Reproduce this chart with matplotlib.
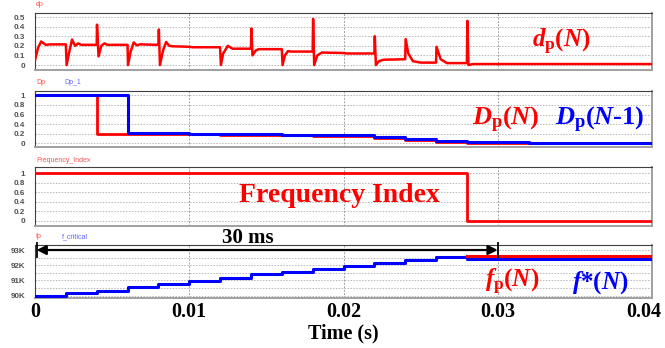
import matplotlib
matplotlib.use("Agg")
import matplotlib.pyplot as plt
import numpy as np
from matplotlib.transforms import ScaledTranslation

plt.rcParams['mathtext.fontset'] = 'custom'
plt.rcParams['mathtext.rm'] = 'Liberation Serif:bold'
plt.rcParams['mathtext.it'] = 'Liberation Serif:italic:bold'
plt.rcParams['mathtext.bf'] = 'Liberation Serif:bold'

# ---------------- data ----------------
# dp(N) waveform breakpoints (time s, duty)
dp_t = [0.0000, 0.0002, 0.0004, 0.0007, 0.0010, 0.0020, 0.00205, 0.0022, 0.0024, 0.0026,
        0.0028, 0.0030, 0.0040, 0.00402, 0.00412, 0.0043, 0.0045, 0.0047, 0.0060, 0.00603,
        0.0062, 0.0064, 0.0066, 0.0068, 0.0080, 0.00803, 0.0081, 0.0083, 0.0085, 0.0087,
        0.0089, 0.0100, 0.0102, 0.0120, 0.01205, 0.0122, 0.0125, 0.0128, 0.0140, 0.01403,
        0.0141, 0.0143, 0.0145, 0.0160, 0.01605, 0.0162, 0.0164, 0.0166, 0.0180, 0.01803,
        0.0181, 0.0183, 0.0186, 0.0200, 0.0202, 0.0220, 0.02203, 0.0221, 0.0223, 0.0226,
        0.0240, 0.02403, 0.0242, 0.0245, 0.0250, 0.0260, 0.02603, 0.0263, 0.0267, 0.0280,
        0.02803, 0.0281, 0.0284, 0.0400]
dp_v = [0.05, 0.18, 0.245, 0.21, 0.215, 0.215, 0.00, 0.12, 0.265, 0.20,
        0.225, 0.21, 0.21, 0.42, 0.09, 0.20, 0.225, 0.21, 0.21, 0.00,
        0.14, 0.235, 0.205, 0.215, 0.21, 0.37, 0.00, 0.15, 0.24, 0.20,
        0.195, 0.19, 0.185, 0.185, 0.00, 0.12, 0.20, 0.17, 0.17, 0.38,
        0.10, 0.15, 0.165, 0.165, 0.00, 0.10, 0.145, 0.14, 0.14, 0.48,
        0.00, 0.10, 0.13, 0.125, 0.12, 0.12, 0.30, 0.00, 0.04, 0.055,
        0.06, 0.27, 0.12, 0.04, 0.025, 0.025, 0.19, 0.06, 0.02, 0.02,
        0.46, 0.00, 0.01, 0.01]

# Dp(N) and Dp(N-1) step levels
step_t = [0.000, 0.002, 0.004, 0.006, 0.008, 0.010, 0.012, 0.014, 0.016, 0.018,
          0.020, 0.022, 0.024, 0.026, 0.028, 0.030, 0.032, 0.034, 0.036, 0.038, 0.040]
Dp_N = [1.0, 1.0, 0.20, 0.20, 0.19, 0.19, 0.18, 0.18, 0.165, 0.155,
        0.155, 0.11, 0.06, 0.025, 0.015, 0.015, 0.015, 0.015, 0.015, 0.015, 0.015]
Dp_N1 = [1.0, 1.0, 1.0, 0.205, 0.205, 0.195, 0.19, 0.185, 0.18, 0.17,
         0.165, 0.13, 0.08, 0.045, 0.025, 0.025, 0.015, 0.015, 0.015, 0.015, 0.015]

# Frequency index
fi_t = [0.0, 0.028, 0.040]
fi_v = [1, 0, 0]

# f_critical and fp (Hz)
fcrit = [90000, 90150, 90330, 90550, 90780, 90980, 91150, 91400, 91570, 91760,
         91960, 92130, 92350, 92570, 92420, 92420, 92420, 92420, 92420, 92420, 92420]
fp_t = [0.028, 0.040]
fp_v = [92600, 92600]

xticks = [0, 0.01, 0.02, 0.03, 0.04]
xticklabels = ['0', '0.01', '0.02', '0.03', '0.04']

RED = '#ff0000'
BLUE = '#0000ff'

# ---------------- figure ----------------
fig = plt.figure(figsize=(6.65, 3.48), dpi=100)
L, W = 35/665, 617/665
H = 348
boxes = [(12.5, 70), (90.7, 147), (167, 225.7), (245, 298)]
axes = []
for top, bot in boxes:
    ax = fig.add_axes([L, 1 - bot/H, W, (bot - top)/H])
    axes.append(ax)

tick_font = dict(fontsize=5.8, color='#505050', fontweight='bold', family='Liberation Sans')

def style(ax, ylim, yticks, ylabels, ygrid):
    ax.set_xlim(0, 0.04)
    ax.set_ylim(*ylim)
    ax.set_yticks(yticks)
    ax.set_yticklabels(ylabels, **tick_font)
    ax.tick_params(axis='y', length=0, pad=7)
    ax.tick_params(axis='x', length=0)
    ax.set_xticks(xticks)
    ax.set_xticklabels([])
    for g in ygrid:
        ax.axhline(g, color='#b8b8b8', ls=(0, (1.5, 1.5)), lw=0.7, zorder=0)
    for xv in xticks[1:4]:
        ax.axvline(xv, color='#a0a0a0', ls=(0, (2, 1.5)), lw=0.7, zorder=0)
    for s in ['top', 'left']:
        ax.spines[s].set_color('#404040')
        ax.spines[s].set_linewidth(0.8)
    for s in ['bottom', 'right']:
        ax.spines[s].set_color('#a0a0a0')
        ax.spines[s].set_linewidth(1.4)

ax1, ax2, ax3, ax4 = axes

# Panel 1
ax1.plot(dp_t, dp_v, color=RED, lw=1.8, zorder=3)
style(ax1, (-0.052, 0.547), [0, 0.1, 0.2, 0.3, 0.4, 0.5],
      ['0', '0.1', '0.2', '0.3', '0.4', '0.5'], [0, 0.1, 0.2, 0.3, 0.4, 0.5])
ax1.text(0.8525, 0.49, r'$d_\mathrm{p}$($N$)', transform=ax1.transAxes, color=RED,
         fontsize=18, family='Liberation Serif', fontweight='bold', ha='center', va='center')

# Panel 2
ax2.plot(step_t, Dp_N, color=RED, lw=2.0, drawstyle='steps-post', zorder=3)
ax2.plot(step_t, Dp_N1, color=BLUE, lw=2.2, drawstyle='steps-post', zorder=4)
style(ax2, (-0.077, 1.096), [0, 0.2, 0.4, 0.6, 0.8, 1.0],
      ['0', '0.2', '0.4', '0.6', '0.8', '1'], [0, 0.2, 0.4, 0.6, 0.8, 1.0])
ax2.text(0.763, 0.48, r'$D_\mathrm{p}$($N$)', transform=ax2.transAxes, color=RED,
         fontsize=19, family='Liberation Serif', fontweight='bold', ha='center', va='center')
ax2.text(0.916, 0.48, r'$D_\mathrm{p}$($N$-1)', transform=ax2.transAxes, color=BLUE,
         fontsize=19, family='Liberation Serif', fontweight='bold', ha='center', va='center')

# Panel 3
ax3.plot(fi_t, fi_v, color=RED, lw=2.0, drawstyle='steps-post', zorder=3)
style(ax3, (-0.099, 1.126), [0, 0.2, 0.4, 0.6, 0.8, 1.0],
      ['0', '0.2', '0.4', '0.6', '0.8', '1'], [0, 0.2, 0.4, 0.6, 0.8, 1.0])
ax3.text(0.4927, 0.52, 'Frequency Index', transform=ax3.transAxes, color=RED,
         fontsize=20, family='Liberation Serif', fontweight='bold', ha='center', va='center')

# Panel 4
ax4.plot(step_t, fcrit, color=BLUE, lw=2.2, drawstyle='steps-post', zorder=3)
ax4.plot(fp_t, fp_v, color=RED, lw=2.2, zorder=4)
style(ax4, (89850, 93330), [90000, 91000, 92000, 93000],
      ['90K', '91K', '92K', '93K'],
      [90000, 90500, 91000, 91500, 92000, 92500, 93000])
ax4.set_xticklabels(xticklabels, fontsize=14.5, family='Liberation Serif', fontweight='bold')
ax4.tick_params(axis='x', pad=3)
last = ax4.get_xticklabels()[-1]
last.set_transform(last.get_transform() + ScaledTranslation(-8/100, 0, fig.dpi_scale_trans))
ax4.set_xlabel('Time (s)', fontsize=14.5, family='Liberation Serif', fontweight='bold', labelpad=1)
ax4.text(0.773, 0.30, r'$f_\mathrm{p}$($N$)', transform=ax4.transAxes, color=RED,
         fontsize=18, family='Liberation Serif', fontweight='bold', ha='center', va='center')
ax4.text(0.916, 0.30, r'$f$*($N$)', transform=ax4.transAxes, color=BLUE,
         fontsize=18, family='Liberation Serif', fontweight='bold', ha='center', va='center')

# 30 ms arrow
arrow_start, arrow_end, arrow_y = 0.0, 0.03, 93000
ax4.annotate('', xy=(arrow_start + 0.0001, arrow_y), xytext=(arrow_end, arrow_y),
             arrowprops=dict(arrowstyle='<|-|>', color='black', lw=1.6,
                             mutation_scale=14, shrinkA=0, shrinkB=0),
             annotation_clip=False, zorder=6)
for xv in (arrow_start + 0.0001, arrow_end):
    ax4.plot([xv, xv], [92530, 93470], color='black', lw=1.3, clip_on=False, zorder=6)
ax4.text(0.0138, 93800, '30 ms', fontsize=15, family='Liberation Serif', fontweight='bold',
         ha='center', va='center', clip_on=False)

# small trace titles
small = dict(fontsize=5, family='Liberation Sans', va='center', ha='left')
fig.text(36/665, 1 - 5/H, 'dp', color='#ff5050', **small)
fig.text(36/665, 1 - 82/H, 'Dp', color='#ff5050', **small)
fig.text(64/665, 1 - 82/H, 'Dp_1', color='#6060ff', **small)
fig.text(36/665, 1 - 160/H, 'Frequency_Index', color='#ff5050', **small)
fig.text(36/665, 1 - 236.5/H, 'fp', color='#ff5050', **small)
fig.text(62/665, 1 - 236.5/H, 'f_critical', color='#6060ff', **small)

fig.savefig('out.png', dpi=100, facecolor='white')
